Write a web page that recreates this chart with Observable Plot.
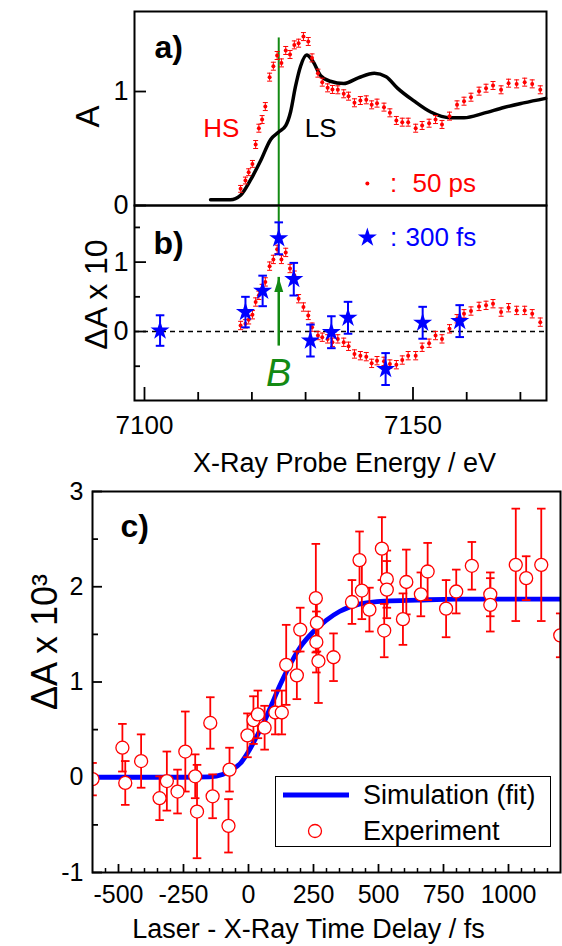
<!DOCTYPE html>
<html>
<head>
<meta charset="utf-8">
<script src="https://cdn.jsdelivr.net/npm/d3@7"></script>
<script src="https://cdn.jsdelivr.net/npm/@observablehq/plot@0.6"></script>
<style>
  html,body{margin:0;padding:0;background:#fff;}
  #root{position:relative;width:562px;height:946px;overflow:hidden;font-family:"Liberation Sans",Arial,sans-serif;}
  #root > svg{position:absolute;left:0;overflow:visible;}
  #legend{position:absolute;left:275px;top:776px;width:276px;height:71px;border:1.2px solid #000;background:#fff;box-sizing:border-box;}
  #legend svg{position:absolute;left:0;top:0;}
  #legend .lab{position:absolute;left:87px;font-size:27px;line-height:30px;color:#000;white-space:nowrap;}
</style>
</head>
<body>
<div id="root"></div>
<script>
// ---------- Panel a / b : XANES at 50 ps (red dots) ----------
const energy50 = [7117.9, 7118.8, 7119.4, 7120.1, 7120.7, 7121.3, 7121.9, 7122.5, 7123.3, 7124.0,
  7124.7, 7125.5, 7126.3, 7127.1, 7127.9, 7128.7, 7129.6, 7130.5, 7131.2, 7132.3,
  7133.1, 7134.1, 7135.0, 7136.0, 7137.1, 7138.0, 7139.1, 7140.2, 7141.3, 7142.3,
  7143.3, 7144.6, 7145.7, 7146.9, 7148.0, 7149.1, 7150.5, 7151.7, 7153.0, 7154.2,
  7155.4, 7156.8, 7158.2, 7159.5, 7160.8, 7162.3, 7163.6, 7164.9, 7166.4, 7167.8,
  7169.3, 7170.8, 7172.2, 7173.7];
const absorb50 = [0.146, 0.219, 0.292, 0.365, 0.535, 0.678, 0.754, 0.868, 1.126, 1.222,
  1.316, 1.251, 1.360, 1.325, 1.409, 1.424, 1.482, 1.439, 1.295, 1.161,
  1.082, 1.032, 1.018, 1.015, 0.980, 0.959, 0.901, 0.921, 0.927, 0.883,
  0.898, 0.863, 0.813, 0.746, 0.731, 0.731, 0.678, 0.702, 0.722, 0.754,
  0.711, 0.784, 0.883, 0.915, 0.950, 1.003, 1.029, 1.053, 1.015, 1.073,
  1.067, 1.082, 1.067, 1.015];
const absorbErr50 = [0.03, 0.03, 0.03, 0.03, 0.035, 0.035, 0.035, 0.035, 0.035, 0.035,
  0.035, 0.035, 0.035, 0.035, 0.035, 0.035, 0.035, 0.035, 0.035, 0.035,
  0.035, 0.035, 0.035, 0.035, 0.035, 0.035, 0.035, 0.035, 0.035, 0.035,
  0.035, 0.035, 0.035, 0.035, 0.035, 0.035, 0.035, 0.035, 0.035, 0.035,
  0.035, 0.035, 0.035, 0.035, 0.035, 0.035, 0.035, 0.035, 0.035, 0.035,
  0.035, 0.035, 0.035, 0.035];
const diff50 = [0.087, 0.111, 0.169, 0.242, 0.425, 0.522, 0.62, 0.715, 0.942, 1.039,
  1.184, 1.039, 1.140, 0.908, 0.812, 0.473, 0.353, 0.232, 0.063, -0.058,
  -0.082, -0.106, -0.155, -0.106, -0.155, -0.213, -0.324, -0.348, -0.362, -0.459,
  -0.420, -0.430, -0.469, -0.478, -0.411, -0.348, -0.348, -0.227, -0.169, -0.058,
  -0.106, 0.039, 0.184, 0.256, 0.295, 0.362, 0.377, 0.401, 0.280, 0.343,
  0.304, 0.304, 0.256, 0.135];
const diffErr50 = 0.06;

// ground state (LS) spectrum, black line
const lsEnergy = [7112.3, 7116.0, 7117.9, 7119.7, 7121.6, 7123.5, 7125.0, 7126.3, 7127.2, 7128.1,
  7129.05, 7130.2, 7131.3, 7132.8, 7134.6, 7137.1, 7139.8, 7142.8, 7145.0, 7147.1,
  7150.1, 7153.3, 7157.0, 7159.5, 7163.2, 7166.9, 7170.6, 7174.7];
const lsAbsorb = [0.05, 0.05, 0.09, 0.22, 0.39, 0.58, 0.645, 0.70, 0.82, 1.04,
  1.22, 1.32, 1.27, 1.14, 1.09, 1.07, 1.12, 1.16, 1.13, 1.03,
  0.92, 0.82, 0.77, 0.77, 0.81, 0.86, 0.90, 0.94];

// 300 fs transient (blue stars)
const starEnergy = [7102.9, 7118.8, 7122.0, 7125.0, 7127.8, 7130.9, 7134.8, 7137.9, 7144.9, 7151.8, 7158.7];
const starDiff   = [0.014, 0.280, 0.585, 1.343, 0.754, -0.130, -0.010, 0.198, -0.541, 0.126, 0.150];
const starErr    = [0.22, 0.22, 0.22, 0.23, 0.235, 0.23, 0.23, 0.23, 0.23, 0.23, 0.23];

// probe energy B marker
const markerEnergy = 7125.0;
const markerTopA = 1.47;
const arrowTipB = 0.78, arrowBaseB = -0.21, markerTopStopB = 1.35;

// axes tick labels
const topXMajor = [7100, 7150];
const topXMinor = [7110, 7120, 7130, 7140, 7160, 7170];
const aYMajor = [0, 1];
const bYMajor = [0, 1];
const bYMinor = [-0.5, 0.5, 1.5];

// ---------- Panel c : time scan ----------
const delay = [-600, -485, -474, -413, -342, -314, -273, -243, -205, -198,
  -147, -138, -77, -73, -4, 19, 36, 62, 103, 128,
  145, 186, 199, 259, 261, 263, 269, 327, 398, 427,
  436, 465, 513, 522, 532, 532, 594, 607, 663, 689,
  760, 799, 859, 930, 930, 1028, 1068, 1126, 1199];
const expDA = [-0.02, 0.31, -0.06, 0.17, -0.22, -0.04, -0.15, 0.27, 0.01, -0.36,
  0.57, -0.20, -0.51, 0.08, 0.44, 0.60, 0.66, 0.52, 0.68, 0.68,
  1.18, 1.07, 1.55, 1.88, 1.42, 1.62, 1.22, 1.26, 1.84, 2.28,
  1.96, 1.76, 2.40, 1.54, 2.08, 1.97, 1.66, 2.05, 1.92, 2.16,
  1.77, 1.95, 2.22, 1.92, 1.81, 2.23, 2.09, 2.23, 1.49];
const expErr = [0.17, 0.25, 0.23, 0.28, 0.23, 0.31, 0.23, 0.42, 0.23, 0.49,
  0.27, 0.23, 0.28, 0.23, 0.23, 0.25, 0.25, 0.23, 0.23, 0.23,
  0.42, 0.25, 0.23, 0.57, 0.32, 0.30, 0.44, 0.25, 0.23, 0.30,
  0.30, 0.23, 0.33, 0.28, 0.30, 0.30, 0.27, 0.34, 0.23, 0.30,
  0.30, 0.23, 0.25, 0.23, 0.28, 0.59, 0.23, 0.59, 0.23];
const fitDelay = [-600, -400, -250, -150, -100, -70, -30, 0, 30, 60, 90, 120, 150, 200, 250, 300, 350, 430, 530, 650, 800, 1200];
const fitDA    = [0, 0, 0, 0.005, 0.03, 0.07, 0.15, 0.27, 0.42, 0.58, 0.77, 0.96, 1.13, 1.37, 1.53, 1.65, 1.74, 1.82, 1.85, 1.86, 1.87, 1.87];

const cXMajor = [-500, -250, 0, 250, 500, 750, 1000];
const cYMajor = [-1, 0, 1, 2, 3];
const cYMinor = [-0.5, 0.5, 1.5, 2.5];

// ---------- helpers ----------
const FONT = '"Liberation Sans", Arial, Helvetica, sans-serif';
const RED = "#ff0000", BLUE = "#0000ff", GREEN = "#138a13";
const capSymbol = {draw(ctx, size) { const r = Math.sqrt(size / Math.PI); ctx.moveTo(-r, 0); ctx.lineTo(r, 0); }};
const headSymbol = {draw(ctx, size) { const r = Math.sqrt(size / Math.PI);
  ctx.moveTo(0, -2 * r); ctx.lineTo(0.9 * r, 0.9 * r); ctx.lineTo(-0.9 * r, 0.9 * r); ctx.closePath(); }};
const fmt = d => String(d);
const W = 562;
const C = {textAnchor: "middle", lineAnchor: "middle"};
const root = document.getElementById("root");
function place(svg, top) { svg.style.top = top + "px"; svg.style.background = "transparent"; root.appendChild(svg); }

function errorMarks(data, x, y, e, color, width, capR, extra = {}) {
  return [
    Plot.ruleX(data, {x, y1: d => d[y] - d[e], y2: d => d[y] + d[e], stroke: color, strokeWidth: width, ...extra}),
    Plot.dot(data, {x, y: d => d[y] + d[e], symbol: capSymbol, r: capR, stroke: color, fill: "none", strokeWidth: width, ...extra}),
    Plot.dot(data, {x, y: d => d[y] - d[e], symbol: capSymbol, r: capR, stroke: color, fill: "none", strokeWidth: width, ...extra})
  ];
}

const dataA = energy50.map((e, i) => ({e, v: absorb50[i], err: absorbErr50[i]}));
const dataB = energy50.map((e, i) => ({e, v: diff50[i], err: diffErr50}));
const lsData = lsEnergy.map((e, i) => ({e, v: lsAbsorb[i]}));
const stars = starEnergy.map((e, i) => ({e, v: starDiff[i], err: starErr[i]}));
const expData = delay.map((t, i) => ({t, v: expDA[i], err: expErr[i]}));
const fitData = fitDelay.map((t, i) => ({t, v: fitDA[i]}));

const xDomainTop = [7098.14, 7174.86];

// ---------- Panel a ----------
const mLA = 134, mRA = 16;
const fwA = W - mLA - mRA;
const plotA = Plot.plot({
  width: W, height: 205, marginTop: 11, marginBottom: 0, marginLeft: mLA, marginRight: mRA,
  style: {fontFamily: FONT, overflow: "visible", background: "transparent"},
  x: {domain: xDomainTop, axis: null},
  y: {domain: [0, 1.702]},
  marks: [
    Plot.tickY(aYMajor, {y: d => d, insetRight: fwA - 12, stroke: "#000", strokeWidth: 1.8}),
    Plot.axisY(aYMajor, {tickSize: 0, tickPadding: 6, fontSize: 27, tickFormat: fmt, label: null}),
    Plot.text(["A"], {text: d => d, frameAnchor: "left", ...C, rotate: -90, dx: -46, dy: 8, fontSize: 33}),
    Plot.ruleX([markerEnergy], {x: d => d, y1: markerTopA, y2: 0, stroke: GREEN, strokeWidth: 2}),
    Plot.line(lsData, {x: "e", y: "v", stroke: "#000", strokeWidth: 3.5, curve: "monotone-x"}),
    ...errorMarks(dataA, "e", "v", "err", RED, 1, 2.5),
    Plot.dot(dataA, {x: "e", y: "v", r: 2, fill: RED}),
    Plot.text(["a)"], {text: d => d, frameAnchor: "top-left", textAnchor: "start", lineAnchor: "middle", dx: 20, dy: 36, fontSize: 32, fontWeight: "bold"}),
    Plot.text(["HS"], {text: d => d, x: 7114.3, y: 0.675, fontSize: 26, fill: RED}),
    Plot.text(["LS"], {text: d => d, x: 7132.8, y: 0.675, fontSize: 26, fill: "#000"}),
    Plot.dot([0.193], {x: 7141.5, y: d => d, r: 2, fill: RED}),
    Plot.text([":"], {text: d => d, x: 7146.4, y: 0.193, fontSize: 26, fill: RED}),
    Plot.text(["50 ps"], {text: d => d, x: 7149.9, y: 0.193, fontSize: 26, fill: RED, textAnchor: "start"}),
    Plot.frame({stroke: "#000", strokeWidth: 2})
  ]
});
place(plotA, 0);

// ---------- Panel b ----------
const fhB = 195;
const yDomainB = [-0.994, 1.816];
const plotB = Plot.plot({
  width: W, height: 275, marginTop: 0, marginBottom: 80, marginLeft: mLA, marginRight: mRA,
  style: {fontFamily: FONT, overflow: "visible", background: "transparent"},
  x: {domain: xDomainTop},
  y: {domain: yDomainB},
  marks: [
    Plot.ruleY([0], {stroke: "#000", strokeWidth: 1.5, strokeDasharray: "5,4"}),
    Plot.tickY(bYMajor, {y: d => d, insetRight: fwA - 12, stroke: "#000", strokeWidth: 1.8}),
    Plot.tickY(bYMinor, {y: d => d, insetRight: fwA - 6, stroke: "#000", strokeWidth: 1.8}),
    Plot.tickX(topXMajor, {x: d => d, insetTop: fhB - 13, stroke: "#000", strokeWidth: 1.8}),
    Plot.tickX(topXMinor, {x: d => d, insetTop: fhB - 8, stroke: "#000", strokeWidth: 1.8}),
    Plot.axisY(bYMajor, {tickSize: 0, tickPadding: 6, fontSize: 27, tickFormat: fmt, label: null}),
    Plot.axisX(topXMajor, {tickSize: 0, tickPadding: 15, fontSize: 26, tickFormat: fmt, label: null}),
    Plot.text(["X-Ray Probe Energy / eV"], {text: d => d, frameAnchor: "bottom", ...C, dx: 4, dy: 62.5, fontSize: 27}),
    Plot.text(["\u0394A x 10"], {text: d => d, frameAnchor: "left", ...C, rotate: -90, dx: -37.5, dy: -8.5, fontSize: 32}),
    Plot.ruleX([markerEnergy], {x: d => d, y1: yDomainB[1], y2: markerTopStopB, stroke: GREEN, strokeWidth: 2}),
    Plot.ruleX([markerEnergy], {x: d => d, y1: arrowBaseB, y2: arrowTipB, stroke: GREEN, strokeWidth: 2.5}),
    Plot.dot([arrowTipB], {x: markerEnergy, y: d => d, dy: 10, symbol: headSymbol, r: 5, fill: GREEN, stroke: "none"}),
    ...errorMarks(dataB, "e", "v", "err", RED, 1, 2.5),
    Plot.dot(dataB, {x: "e", y: "v", r: 2, fill: RED}),
    ...errorMarks(stars, "e", "v", "err", BLUE, 2, 4.3),
    Plot.dot(stars, {x: "e", y: "v", symbol: "star", r: 6, fill: BLUE, stroke: "none"}),
    Plot.text(["b)"], {text: d => d, frameAnchor: "top-left", textAnchor: "start", lineAnchor: "middle", dx: 19, dy: 38, fontSize: 32, fontWeight: "bold"}),
    Plot.text(["B"], {text: d => d, x: markerEnergy, y: -0.605, fontSize: 38, fontStyle: "italic", fill: GREEN}),
    Plot.dot([1.354], {x: 7141.5, y: d => d, symbol: "star", r: 6, fill: BLUE, stroke: "none"}),
    Plot.text([":"], {text: d => d, x: 7146.4, y: 1.354, fontSize: 26, fill: BLUE}),
    Plot.text(["300 fs"], {text: d => d, x: 7148.6, y: 1.354, fontSize: 26, fill: BLUE, textAnchor: "start"}),
    Plot.frame({stroke: "#000", strokeWidth: 2})
  ]
});
place(plotB, 205);

// ---------- Panel c ----------
const mLC = 92, mRC = 2;
const fwC = W - mLC - mRC, fhC = 392 - 11;
const cXMinor = d3.range(-550, 1200, 50).filter(t => t % 250 !== 0);
const plotC = Plot.plot({
  width: W, height: 466, marginTop: 11, marginBottom: 74, marginLeft: mLC, marginRight: mRC,
  style: {fontFamily: FONT, overflow: "visible", background: "transparent"},
  x: {domain: [-600, 1200]},
  y: {domain: [-1, 3]},
  marks: [
    Plot.tickY(cYMajor, {y: d => d, insetRight: fwC - 10, stroke: "#000", strokeWidth: 1.8}),
    Plot.tickY(cYMinor, {y: d => d, insetRight: fwC - 6, stroke: "#000", strokeWidth: 1.8}),
    Plot.tickX(cXMajor, {x: d => d, insetTop: fhC - 8, stroke: "#000", strokeWidth: 1.8}),
    Plot.tickX(cXMinor, {x: d => d, insetTop: fhC - 4, stroke: "#000", strokeWidth: 1.5}),
    Plot.axisY(cYMajor, {tickSize: 0, tickPadding: 9, fontSize: 25, tickFormat: fmt, label: null}),
    Plot.axisX(cXMajor, {tickSize: 0, tickPadding: 13, fontSize: 25, tickFormat: fmt, label: null}),
    Plot.text(["Laser - X-Ray Time Delay / fs"], {text: d => d, frameAnchor: "bottom", ...C, dx: -18, dy: 57, fontSize: 27}),
    Plot.text(["\u0394A x 10\u00b3"], {text: d => d, frameAnchor: "left", ...C, rotate: -90, dx: -47, dy: -40, fontSize: 36}),
    Plot.line(fitData, {x: "t", y: "v", stroke: BLUE, strokeWidth: 4.8, curve: "monotone-x", clip: true}),
    ...errorMarks(expData, "t", "v", "err", RED, 1.8, 4.3, {clip: true}),
    Plot.dot(expData, {x: "t", y: "v", r: 6.5, fill: "#fff", stroke: RED, strokeWidth: 1.3, clip: true}),
    Plot.text(["c)"], {text: d => d, frameAnchor: "top-left", textAnchor: "start", lineAnchor: "middle", dx: 28, dy: 35, fontSize: 32, fontWeight: "bold"}),
    Plot.frame({stroke: "#000", strokeWidth: 2})
  ]
});
place(plotC, 480);

// ---------- Legend of panel c ----------
const legendItems = ["Simulation (fit)", "Experiment"];
const leg = document.createElement("div");
leg.id = "legend";
leg.innerHTML =
  '<svg width="276" height="71"><line x1="7" x2="73" y1="18" y2="18" stroke="' + BLUE + '" stroke-width="5"/>' +
  '<circle cx="39" cy="54" r="6.5" fill="#fff" stroke="' + RED + '" stroke-width="1.3"/></svg>' +
  '<div class="lab" style="top:3px">' + legendItems[0] + '</div>' +
  '<div class="lab" style="top:39px">' + legendItems[1] + '</div>';
root.appendChild(leg);
</script>
</body>
</html>
